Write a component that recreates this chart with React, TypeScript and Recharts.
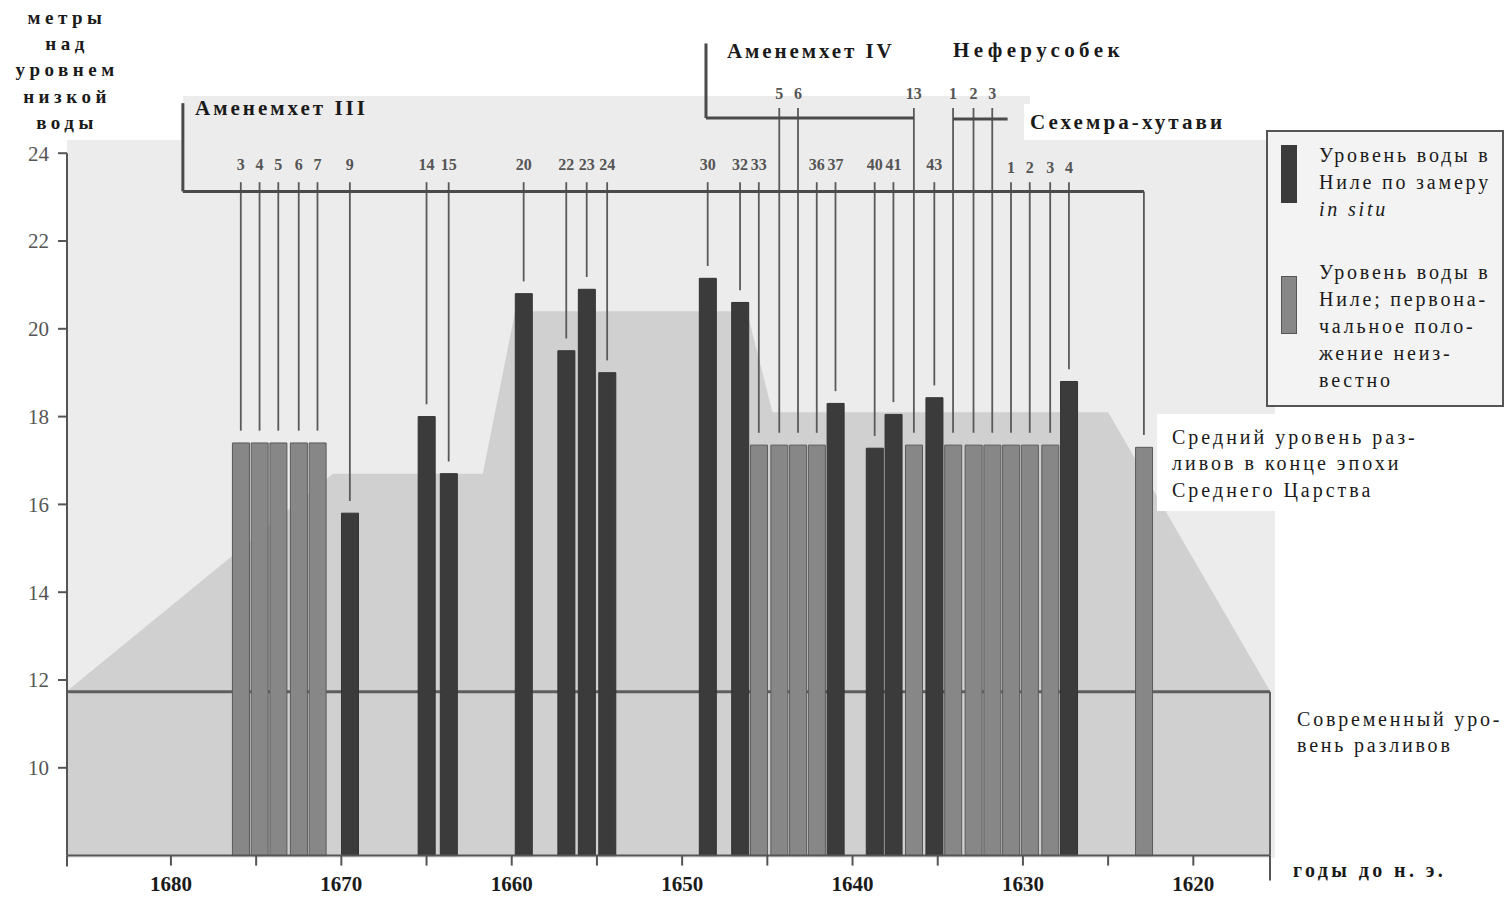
import React from "react";
import {
  ComposedChart,
  Area,
  Bar,
  Cell,
  XAxis,
  YAxis,
  ReferenceLine,
  ReferenceDot,
} from "recharts";

const W = 1511;
const H = 902;
const SERIF = "'Liberation Serif', 'DejaVu Serif', serif";

// years BC (bar centres)
const barYears = [
  1675.9, 1674.8, 1673.7, 1672.5, 1671.4, 1669.5, 1665.0, 1663.7, 1659.3, 1656.8,
  1655.6, 1654.4, 1648.5, 1646.6, 1645.5, 1644.3, 1643.2, 1642.1, 1641.0, 1638.7,
  1637.6, 1636.4, 1635.2, 1634.1, 1632.9, 1631.8, 1630.7, 1629.6, 1628.4, 1627.3,
  1622.9,
];
// metres above low water
const barLevels = [
  17.4, 17.4, 17.4, 17.4, 17.4, 15.8, 18.0, 16.7, 20.8, 19.5,
  20.9, 19.0, 21.15, 20.6, 17.35, 17.35, 17.35, 17.35, 18.3, 17.28,
  18.05, 17.35, 18.43, 17.35, 17.35, 17.35, 17.35, 17.35, 17.35, 18.8,
  17.3,
];
// d = measured in situ, g = original position unknown
const barKinds = [
  "g", "g", "g", "g", "g", "d", "d", "d", "d", "d",
  "d", "d", "d", "d", "g", "g", "g", "g", "d", "d",
  "d", "g", "d", "g", "g", "g", "g", "g", "g", "d",
  "g",
];
const regnalYears = [
  "3", "4", "5", "6", "7", "9", "14", "15", "20", "22",
  "23", "24", "30", "32", "33", "5", "6", "36", "37", "40",
  "41", "13", "43", "1", "2", "3", "1", "2", "3", "4",
  "",
];
// A3 = Аменемхет III, A4 = Аменемхет IV, N = Неферусобек, S = Сехемра-хутави
const reigns = [
  "A3", "A3", "A3", "A3", "A3", "A3", "A3", "A3", "A3", "A3",
  "A3", "A3", "A3", "A3", "A3", "A4", "A4", "A3", "A3", "A3",
  "A3", "A4", "A3", "N", "N", "N", "S", "S", "S", "S",
  "avg",
];

// background flood band (light grey polygon)
const bandYears = [1686.1, 1670.5, 1661.7, 1659.8, 1646.2, 1644.7, 1625.0, 1615.5];
const bandLevels = [11.75, 16.7, 16.7, 20.4, 20.4, 18.1, 18.1, 11.75];
const modernLevel = 11.73;

const xTicks = [1680, 1675, 1670, 1665, 1660, 1655, 1650, 1645, 1640, 1635, 1630, 1625, 1620];
const yTicks = [10, 12, 14, 16, 18, 20, 22, 24];

const X_DOMAIN: [number, number] = [1615.5, 1686.1];
const Y_DOMAIN: [number, number] = [8, 24];

const lineTop: Record<string, number> = { A3: 23.34, S: 23.34, A4: 25.03, N: 25.03, avg: 23.13 };
const labelY: Record<string, number> = { A3: 23.74, S: 23.68, A4: 25.37, N: 25.37 };

// reign brackets
const brackets: Array<[number, number, number, number]> = [
  [1679.3, 25.14, 1679.3, 23.13],
  [1679.3, 23.13, 1622.9, 23.13],
  [1648.6, 26.5, 1648.6, 24.8],
  [1648.6, 24.8, 1636.4, 24.8],
  [1634.1, 24.78, 1630.9, 24.78],
];

function Txt({ left, top, lines, size = 19, bold = false, spacing = 1, lh = 26.5, align = "left", width, color = "#1a1a1a", italicLine = -1 }: any) {
  return (
    <div
      style={{
        position: "absolute",
        left,
        width,
        top: top - lh / 2,
        fontFamily: SERIF,
        fontSize: size,
        fontWeight: bold ? "bold" : "normal",
        letterSpacing: spacing,
        lineHeight: `${lh}px`,
        color,
        textAlign: align,
        whiteSpace: "nowrap",
      }}
    >
      {lines.map((l: string, i: number) => (
        <div key={i} style={{ fontStyle: i === italicLine ? "italic" : "normal" }}>{l}</div>
      ))}
    </div>
  );
}

export default function App() {
  const barData = barYears.map((year, i) => ({ year, level: barLevels[i], kind: barKinds[i] }));
  const bandData = bandYears.map((year, i) => ({ year, level: bandLevels[i] }));

  return (
    <div style={{ position: "absolute", left: 0, top: 0, width: W, height: H, background: "#fff", overflow: "hidden" }}>
      <div style={{ position: "absolute", left: 67, top: 140, width: 1208, height: 718, background: "#ececec" }} />
      <div style={{ position: "absolute", left: 183, top: 96, width: 847, height: 44, background: "#ececec" }} />

      <div style={{ position: "absolute", left: 0, top: 0 }}>
        <ComposedChart width={W} height={H} data={bandData} margin={{ top: 153.2, right: 241, bottom: 46.4, left: 67 }}>
          <XAxis type="number" dataKey="year" domain={X_DOMAIN} reversed hide allowDataOverflow />
          <YAxis type="number" domain={Y_DOMAIN} hide allowDataOverflow />
          <Area type="linear" dataKey="level" baseValue={8} stroke="none" fill="#d0d0d0" fillOpacity={1} isAnimationActive={false} />
          <ReferenceLine y={modernLevel} stroke="#5e5e5e" strokeWidth={3} />
          <ReferenceLine segment={[{ x: X_DOMAIN[0], y: 8 }, { x: X_DOMAIN[0], y: modernLevel }]} stroke="#5e5e5e" strokeWidth={2} />
        </ComposedChart>
      </div>

      <div style={{ position: "absolute", left: 1157, top: 414, width: 118, height: 97, background: "#fff" }} />

      <div style={{ position: "absolute", left: 0, top: 0 }}>
        <ComposedChart width={W} height={H} data={barData} margin={{ top: 153.2, right: 241, bottom: 16.4, left: 7 }}>
          <XAxis
            type="number"
            dataKey="year"
            domain={X_DOMAIN}
            reversed
            allowDataOverflow
            ticks={xTicks}
            interval={0}
            height={30}
            tickSize={10}
            tickMargin={10}
            tickFormatter={(v: number) => (v % 10 === 0 ? String(v) : "")}
            axisLine={{ stroke: "#555", strokeWidth: 2 }}
            tickLine={{ stroke: "#555", strokeWidth: 2 }}
            tick={{ fill: "#1a1a1a", fontSize: 21, fontWeight: "bold", fontFamily: SERIF }}
          />
          <YAxis
            type="number"
            domain={Y_DOMAIN}
            ticks={yTicks}
            interval={0}
            width={60}
            tickSize={9}
            tickMargin={9}
            axisLine={{ stroke: "#555", strokeWidth: 2 }}
            tickLine={{ stroke: "#555", strokeWidth: 2 }}
            tick={{ fill: "#555", fontSize: 21, fontFamily: SERIF }}
          />
          <Bar dataKey="level" barSize={17} isAnimationActive={false}>
            {barData.map((d, i) => (
              <Cell
                key={i}
                fill={d.kind === "d" ? "#3b3b3b" : "#878787"}
                stroke={d.kind === "d" ? "#333" : "#5a5a5a"}
                strokeWidth={1}
              />
            ))}
          </Bar>

          {barData.map((d, i) => (
            <ReferenceLine
              key={`l${i}`}
              segment={[{ x: d.year, y: lineTop[reigns[i]] }, { x: d.year, y: d.level + 0.28 }]}
              stroke="#5a5a5a"
              strokeWidth={1.8}
              ifOverflow="visible"
            />
          ))}

          {brackets.map((b, i) => (
            <ReferenceLine
              key={`b${i}`}
              segment={[{ x: b[0], y: b[1] }, { x: b[2], y: b[3] }]}
              stroke="#4a4a4a"
              strokeWidth={3}
              ifOverflow="visible"
            />
          ))}

          <ReferenceLine segment={[{ x: X_DOMAIN[1], y: 8 }, { x: X_DOMAIN[1], y: 7.75 }]} stroke="#555" strokeWidth={2} ifOverflow="visible" />
          <ReferenceLine segment={[{ x: X_DOMAIN[0], y: 8 }, { x: X_DOMAIN[0], y: 7.43 }]} stroke="#555" strokeWidth={2} ifOverflow="visible" />

          {barData.map((d, i) =>
            regnalYears[i] ? (
              <ReferenceDot
                key={`t${i}`}
                x={d.year}
                y={labelY[reigns[i]]}
                r={0}
                ifOverflow="visible"
                shape={(p: any) => (
                  <text
                    x={p.cx}
                    y={p.cy}
                    textAnchor="middle"
                    dominantBaseline="central"
                    fontFamily={SERIF}
                    fontWeight="bold"
                    fontSize={16}
                    fill="#555"
                  >
                    {regnalYears[i]}
                  </text>
                )}
              />
            ) : null
          )}
        </ComposedChart>
      </div>

      <Txt left={0} width={134} top={18} lines={["метры", "над", "уровнем", "низкой", "воды"]} size={19} bold spacing={4.5} lh={26.2} align="center" />

      <Txt left={195} top={108} lines={["Аменемхет III"]} size={21} bold spacing={3} />
      <Txt left={727} top={51} lines={["Аменемхет IV"]} size={21} bold spacing={2.9} />
      <Txt left={953} top={50} lines={["Неферусобек"]} size={21} bold spacing={4.4} />
      <div style={{ position: "absolute", left: 1024, top: 104, width: 215, height: 36, background: "#fff" }} />
      <Txt left={1030} top={122} lines={["Сехемра-хутави"]} size={21} bold spacing={3.1} />

      <div style={{ position: "absolute", left: 1266, top: 130, width: 234, height: 273, border: "2px solid #555", background: "#f3f3f3" }} />
      <div style={{ position: "absolute", left: 1281, top: 145, width: 16, height: 58, background: "#3b3b3b" }} />
      <div style={{ position: "absolute", left: 1281, top: 276, width: 14, height: 56, background: "#878787", border: "1px solid #555" }} />
      <Txt left={1319} top={155} lines={["Уровень воды в", "Ниле по замеру", "in situ"]} size={20} spacing={2.8} lh={27} italicLine={2} />
      <Txt left={1319} top={272} lines={["Уровень воды в", "Ниле; первона-", "чальное поло-", "жение неиз-", "вестно"]} size={20} spacing={2.8} lh={27} />

      <Txt left={1172} top={437} lines={["Средний уровень раз-", "ливов в конце эпохи", "Среднего Царства"]} size={20} spacing={3} lh={26.5} />
      <Txt left={1297} top={719} lines={["Современный уро-", "вень разливов"]} size={20} spacing={2.8} lh={26} />
      <Txt left={1293} top={870} lines={["годы до н. э."]} size={20} bold spacing={3.4} />
    </div>
  );
}
